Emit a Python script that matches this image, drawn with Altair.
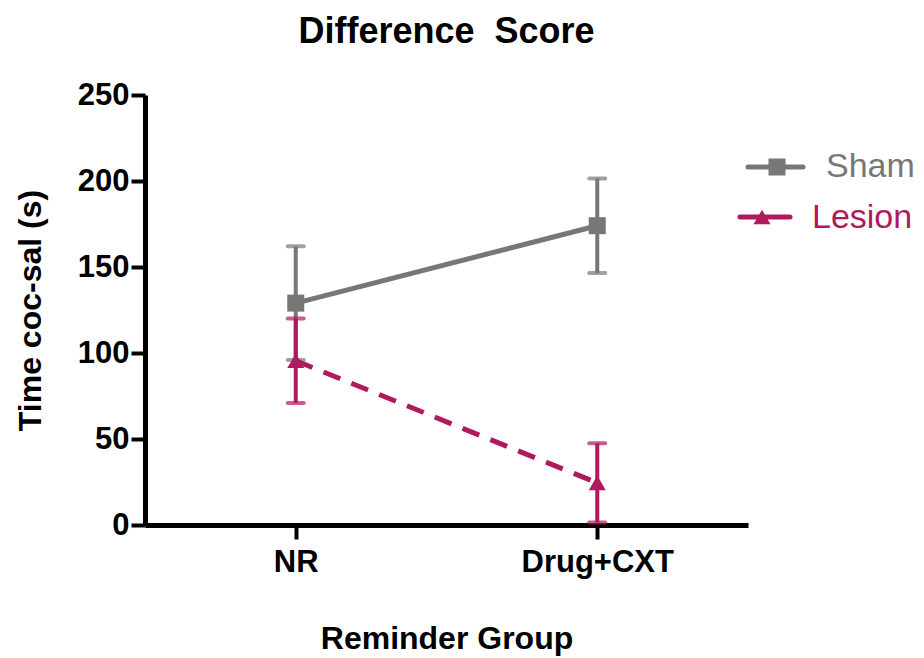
import altair as alt
import pandas as pd

groups = ["NR", "Drug+CXT"]
series_names = ["Sham", "Lesion"]
sham_mean = [129, 174]
sham_sem = [33, 27.5]
lesion_mean = [95.5, 24.5]
lesion_sem = [24.5, 23]
y_ticks = [0, 50, 100, 150, 200, 250]

GRAY = "#777777"
MAG = "#B0195D"
FONT = "Liberation Sans"

rows = []
for s, means, sems in [("Sham", sham_mean, sham_sem), ("Lesion", lesion_mean, lesion_sem)]:
    for g, m, e in zip(groups, means, sems):
        rows.append({"group": g, "series": s, "mean": m, "lo": m - e, "hi": m + e})
df = pd.DataFrame(rows)

x_enc = alt.X(
    "group:N",
    sort=groups,
    scale=alt.Scale(type="point", padding=0.5),
    axis=alt.Axis(
        title="Reminder Group",
        labelAngle=0,
        labelFont=FONT, labelFontSize=31, labelFontWeight="bold", labelColor="black",
        labelPadding=8,
        titleFont=FONT, titleFontSize=32, titleFontWeight="bold", titleColor="black",
        titlePadding=46,
        tickSize=14, tickWidth=4, tickColor="black",
        domainWidth=5, domainColor="black",
        grid=False,
    ),
)
y_scale = alt.Scale(domain=[0, 250], nice=False)
y_axis = alt.Axis(
    title="Time coc-sal (s)",
    values=y_ticks,
    labelFont=FONT, labelFontSize=31, labelFontWeight="bold", labelColor="black",
    labelPadding=2,
    titleFont=FONT, titleFontSize=32, titleFontWeight="bold", titleColor="black",
    titlePadding=30,
    tickSize=14, tickWidth=4, tickColor="black",
    domainWidth=5, domainColor="black",
    grid=False,
)


def series_layers(name, color, shape, dash):
    d = df[df["series"] == name]
    base = alt.Chart(d)
    err = base.mark_rule(color=color, strokeWidth=4).encode(
        x=x_enc, y=alt.Y("lo:Q", scale=y_scale, axis=y_axis), y2="hi:Q"
    )
    cap_lo = base.mark_tick(color=color, size=20, thickness=4, cornerRadius=2).encode(
        x=x_enc, y=alt.Y("lo:Q", scale=y_scale, axis=y_axis)
    )
    cap_hi = base.mark_tick(color=color, size=20, thickness=4, cornerRadius=2).encode(
        x=x_enc, y=alt.Y("hi:Q", scale=y_scale, axis=y_axis)
    )
    line_kw = dict(color=color, strokeWidth=5)
    if dash:
        line_kw["strokeDash"] = dash
    line = base.mark_line(**line_kw).encode(
        x=x_enc, y=alt.Y("mean:Q", scale=y_scale, axis=y_axis)
    )
    pts = base.mark_point(shape=shape, filled=True, color=color, size=289, opacity=1).encode(
        x=x_enc, y=alt.Y("mean:Q", scale=y_scale, axis=y_axis)
    )
    return [err, cap_lo, cap_hi, line, pts]


def legend_item(name, color, shape, ly, x0, x1, xm, xt, ty):
    d = pd.DataFrame({"series": [name]})
    base = alt.Chart(d)
    rule = base.mark_rule(color=color, strokeWidth=5, strokeCap="round").encode(
        x=alt.value(x0), x2=alt.value(x1), y=alt.value(ly)
    )
    pt = base.mark_point(shape=shape, filled=True, color=color, size=289, opacity=1).encode(
        x=alt.value(xm), y=alt.value(ly)
    )
    txt = base.mark_text(align="left", baseline="alphabetic", fontSize=34, font=FONT, color=color).encode(
        x=alt.value(xt), y=alt.value(ty), text="series:N"
    )
    return [rule, pt, txt]


layers = []
layers += series_layers("Sham", GRAY, "square", None)
layers += series_layers("Lesion", MAG, "triangle-up", [18, 12])
layers += legend_item("Sham", GRAY, "square", 72, 603, 658, 632, 681, 82)
layers += legend_item("Lesion", MAG, "triangle-up", 122, 595, 645, 617, 667, 133)

chart = alt.layer(*layers).properties(
    width=603,
    height=430,
    title=alt.TitleParams(
        "Difference\u00a0 Score",
        font=FONT, fontSize=36, fontWeight="bold", color="black",
        anchor="middle", offset=28,
    ),
    autosize=alt.AutoSizeParams(type="none"),
    padding={"left": 137, "top": 87, "right": 168, "bottom": 133},
).configure(background="white").configure_view(stroke=None, strokeWidth=0)

chart.save("out.html", embed_options={"renderer": "svg", "actions": False})
